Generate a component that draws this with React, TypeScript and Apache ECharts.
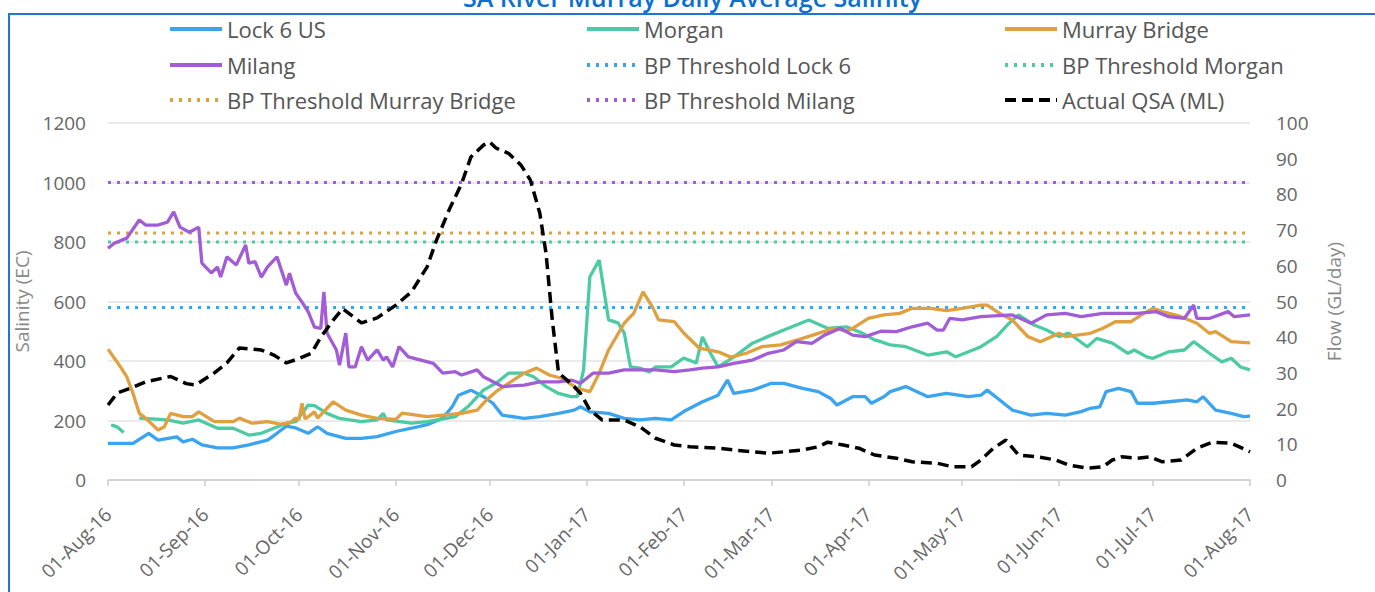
import React, { useEffect, useRef } from "react";
import * as echarts from "echarts";

const TITLE = "SA River Murray Daily Average Salinity";
const LEFT_AXIS_NAME = "Salinity (EC)";
const RIGHT_AXIS_NAME = "Flow (GL/day)";
const START = "2016-08-01";
const END = "2017-08-01";
const MONTH_TICKS = [
  "2016-08-01", "2016-09-01", "2016-10-01", "2016-11-01", "2016-12-01", "2017-01-01",
  "2017-02-01", "2017-03-01", "2017-04-01", "2017-05-01", "2017-06-01", "2017-07-01", "2017-08-01",
];
const MONTH_NAMES = ["Jan", "Feb", "Mar", "Apr", "May", "Jun", "Jul", "Aug", "Sep", "Oct", "Nov", "Dec"];

const SERIES_NAMES = [
  "Lock 6 US", "Morgan", "Murray Bridge",
  "Milang", "BP Threshold Lock 6", "BP Threshold Morgan",
  "BP Threshold Murray Bridge", "BP Threshold Milang", "Actual QSA (ML)",
];

const TH_LOCK6 = 580;
const TH_MORGAN = 800;
const TH_MURRAY_BRIDGE = 830;
const TH_MILANG = 1000;

const lock6: [string, number | null][] = [
  ["2016-08-01", 123], ["2016-08-09", 123], ["2016-08-14", 157], ["2016-08-17", 134], ["2016-08-23", 145],
  ["2016-08-25", 128], ["2016-08-28", 137], ["2016-08-31", 118], ["2016-09-05", 108], ["2016-09-10", 108],
  ["2016-09-15", 118], ["2016-09-21", 134], ["2016-09-24", 157], ["2016-09-27", 181], ["2016-09-30", 175],
  ["2016-10-04", 157], ["2016-10-07", 179], ["2016-10-10", 157], ["2016-10-16", 140], ["2016-10-21", 140],
  ["2016-10-26", 146], ["2016-11-01", 163], ["2016-11-06", 174], ["2016-11-11", 186], ["2016-11-16", 208],
  ["2016-11-19", 246], ["2016-11-21", 285], ["2016-11-25", 302], ["2016-11-29", 280], ["2016-12-02", 258],
  ["2016-12-05", 218], ["2016-12-12", 207], ["2016-12-17", 213], ["2016-12-23", 224], ["2016-12-28", 235],
  ["2016-12-30", 246], ["2017-01-02", 229], ["2017-01-08", 224], ["2017-01-13", 207], ["2017-01-18", 202],
  ["2017-01-23", 207], ["2017-01-28", 202], ["2017-02-01", 230], ["2017-02-07", 263], ["2017-02-12", 285],
  ["2017-02-15", 336], ["2017-02-17", 291], ["2017-02-23", 302], ["2017-03-01", 325], ["2017-03-05", 325],
  ["2017-03-11", 308], ["2017-03-16", 297], ["2017-03-20", 274], ["2017-03-22", 252], ["2017-03-27", 280],
  ["2017-03-31", 280], ["2017-04-02", 258], ["2017-04-06", 280], ["2017-04-08", 297], ["2017-04-13", 314],
  ["2017-04-20", 280], ["2017-04-26", 291], ["2017-05-03", 280], ["2017-05-07", 285], ["2017-05-09", 302],
  ["2017-05-13", 269], ["2017-05-17", 235], ["2017-05-23", 218], ["2017-05-28", 224], ["2017-06-03", 218],
  ["2017-06-08", 230], ["2017-06-11", 241], ["2017-06-14", 246], ["2017-06-16", 297], ["2017-06-20", 308],
  ["2017-06-24", 297], ["2017-06-26", 258], ["2017-07-01", 258], ["2017-07-06", 263], ["2017-07-12", 269],
  ["2017-07-15", 263], ["2017-07-17", 280], ["2017-07-21", 235], ["2017-07-26", 224], ["2017-07-30", 213],
  ["2017-08-01", 215],
];

const morgan: [string, number | null][] = [
  ["2016-08-02", 185], ["2016-08-03", 182], ["2016-08-04", 178], ["2016-08-06", 160], ["2016-08-08", null],
  ["2016-08-11", 208], ["2016-08-20", 202], ["2016-08-25", 191], ["2016-08-30", 202], ["2016-09-05", 174],
  ["2016-09-10", 174], ["2016-09-15", 151], ["2016-09-19", 157], ["2016-09-23", 174], ["2016-09-27", 191],
  ["2016-09-30", 196], ["2016-10-04", 252], ["2016-10-06", 250], ["2016-10-10", 224], ["2016-10-14", 207],
  ["2016-10-21", 196], ["2016-10-26", 202], ["2016-10-28", 224], ["2016-10-29", 202], ["2016-11-06", 191],
  ["2016-11-11", 196], ["2016-11-17", 207], ["2016-11-20", 213], ["2016-11-24", 246], ["2016-11-29", 302],
  ["2016-12-01", 314], ["2016-12-03", 325], ["2016-12-07", 359], ["2016-12-12", 359], ["2016-12-15", 347],
  ["2016-12-19", 314], ["2016-12-23", 291], ["2016-12-27", 280], ["2016-12-29", 280], ["2016-12-31", 370],
  ["2017-01-02", 683], ["2017-01-05", 739], ["2017-01-08", 538], ["2017-01-11", 528], ["2017-01-13", 494],
  ["2017-01-15", 380], ["2017-01-18", 376], ["2017-01-21", 363], ["2017-01-23", 380], ["2017-01-28", 380],
  ["2017-02-01", 410], ["2017-02-05", 393], ["2017-02-07", 481], ["2017-02-09", 437], ["2017-02-12", 380],
  ["2017-02-17", 413], ["2017-02-23", 460], ["2017-03-01", 487], ["2017-03-05", 504], ["2017-03-13", 538],
  ["2017-03-19", 510], ["2017-03-25", 515], ["2017-03-30", 494], ["2017-04-03", 471], ["2017-04-05", 465],
  ["2017-04-08", 454], ["2017-04-13", 448], ["2017-04-20", 420], ["2017-04-26", 431], ["2017-04-29", 414],
  ["2017-05-07", 448], ["2017-05-12", 482], ["2017-05-16", 527], ["2017-05-19", 555], ["2017-05-24", 521],
  ["2017-05-28", 504], ["2017-06-01", 482], ["2017-06-04", 494], ["2017-06-10", 448], ["2017-06-13", 476],
  ["2017-06-18", 460], ["2017-06-23", 426], ["2017-06-25", 437], ["2017-06-29", 414], ["2017-07-01", 409],
  ["2017-07-06", 431], ["2017-07-11", 437], ["2017-07-14", 465], ["2017-07-19", 426], ["2017-07-23", 397],
  ["2017-07-26", 409], ["2017-07-29", 380], ["2017-08-01", 370],
];

const murrayBridge: [string, number | null][] = [
  ["2016-08-01", 440], ["2016-08-05", 380], ["2016-08-07", 347], ["2016-08-09", 291], ["2016-08-11", 224],
  ["2016-08-13", 208], ["2016-08-17", 168], ["2016-08-19", 179], ["2016-08-21", 224], ["2016-08-25", 213],
  ["2016-08-28", 213], ["2016-08-30", 229], ["2016-09-04", 196], ["2016-09-10", 196], ["2016-09-12", 208],
  ["2016-09-16", 191], ["2016-09-21", 196], ["2016-09-25", 188], ["2016-09-28", 191], ["2016-09-30", 208],
  ["2016-10-01", 202], ["2016-10-02", 258], ["2016-10-03", 205], ["2016-10-06", 229], ["2016-10-07", 208],
  ["2016-10-12", 263], ["2016-10-16", 235], ["2016-10-21", 218], ["2016-10-26", 207], ["2016-11-01", 204],
  ["2016-11-03", 225], ["2016-11-11", 213], ["2016-11-16", 218], ["2016-11-22", 224], ["2016-11-27", 235],
  ["2016-11-30", 269], ["2016-12-03", 297], ["2016-12-07", 325], ["2016-12-12", 359], ["2016-12-16", 376],
  ["2016-12-20", 353], ["2016-12-24", 342], ["2016-12-29", 308], ["2017-01-02", 297], ["2017-01-05", 359],
  ["2017-01-08", 437], ["2017-01-13", 527], ["2017-01-16", 560], ["2017-01-19", 632], ["2017-01-22", 582],
  ["2017-01-24", 538], ["2017-01-29", 532], ["2017-02-01", 494], ["2017-02-06", 443], ["2017-02-12", 431],
  ["2017-02-16", 413], ["2017-02-21", 426], ["2017-02-26", 448], ["2017-03-04", 454], ["2017-03-11", 476],
  ["2017-03-16", 493], ["2017-03-21", 510], ["2017-03-25", 500], ["2017-03-27", 510], ["2017-04-01", 543],
  ["2017-04-06", 555], ["2017-04-11", 560], ["2017-04-15", 577], ["2017-04-21", 577], ["2017-04-26", 569],
  ["2017-05-01", 577], ["2017-05-07", 588], ["2017-05-09", 588], ["2017-05-13", 560], ["2017-05-17", 538],
  ["2017-05-22", 482], ["2017-05-26", 465], ["2017-06-01", 493], ["2017-06-03", 482], ["2017-06-11", 493],
  ["2017-06-15", 510], ["2017-06-19", 532], ["2017-06-24", 532], ["2017-06-28", 560], ["2017-07-01", 577],
  ["2017-07-04", 566], ["2017-07-10", 549], ["2017-07-15", 527], ["2017-07-19", 493], ["2017-07-21", 499],
  ["2017-07-26", 465], ["2017-08-01", 461],
];

const milang: [string, number | null][] = [
  ["2016-08-01", 779], ["2016-08-03", 796], ["2016-08-07", 813], ["2016-08-11", 874], ["2016-08-13", 857],
  ["2016-08-17", 857], ["2016-08-20", 867], ["2016-08-22", 901], ["2016-08-24", 850], ["2016-08-27", 833],
  ["2016-08-30", 850], ["2016-08-31", 729], ["2016-09-03", 696], ["2016-09-05", 716], ["2016-09-06", 682],
  ["2016-09-08", 750], ["2016-09-11", 723], ["2016-09-14", 790], ["2016-09-15", 729], ["2016-09-17", 734],
  ["2016-09-19", 682], ["2016-09-21", 716], ["2016-09-24", 750], ["2016-09-27", 655], ["2016-09-28", 695],
  ["2016-09-30", 628], ["2016-10-02", 598], ["2016-10-04", 565], ["2016-10-06", 514], ["2016-10-08", 510],
  ["2016-10-09", 632], ["2016-10-10", 494], ["2016-10-13", 437], ["2016-10-14", 386], ["2016-10-16", 494],
  ["2016-10-17", 380], ["2016-10-19", 380], ["2016-10-21", 448], ["2016-10-23", 403], ["2016-10-26", 437],
  ["2016-10-28", 403], ["2016-10-29", 414], ["2016-10-31", 380], ["2016-11-02", 448], ["2016-11-05", 414],
  ["2016-11-09", 403], ["2016-11-13", 392], ["2016-11-16", 359], ["2016-11-20", 364], ["2016-11-22", 353],
  ["2016-11-27", 370], ["2016-11-29", 347], ["2016-12-03", 325], ["2016-12-05", 314], ["2016-12-12", 319],
  ["2016-12-17", 330], ["2016-12-23", 330], ["2016-12-27", 336], ["2016-12-30", 325], ["2017-01-03", 359],
  ["2017-01-08", 359], ["2017-01-13", 370], ["2017-01-18", 370], ["2017-01-23", 370], ["2017-01-29", 364],
  ["2017-02-03", 370], ["2017-02-07", 376], ["2017-02-12", 380], ["2017-02-17", 392], ["2017-02-23", 403],
  ["2017-02-28", 426], ["2017-03-05", 437], ["2017-03-09", 465], ["2017-03-14", 459], ["2017-03-18", 487],
  ["2017-03-23", 510], ["2017-03-27", 487], ["2017-03-31", 482], ["2017-04-05", 500], ["2017-04-10", 499],
  ["2017-04-15", 515], ["2017-04-20", 527], ["2017-04-23", 504], ["2017-04-25", 504], ["2017-04-27", 543],
  ["2017-05-01", 538], ["2017-05-07", 549], ["2017-05-17", 555], ["2017-05-23", 527], ["2017-05-28", 555],
  ["2017-06-03", 560], ["2017-06-08", 549], ["2017-06-15", 560], ["2017-06-26", 560], ["2017-07-02", 566],
  ["2017-07-06", 549], ["2017-07-11", 543], ["2017-07-14", 588], ["2017-07-15", 543], ["2017-07-19", 543],
  ["2017-07-25", 566], ["2017-07-27", 549], ["2017-08-01", 555],
];

const actualQsa: [string, number | null][] = [
  ["2016-08-01", 21], ["2016-08-04", 24.4], ["2016-08-09", 26], ["2016-08-13", 27.5], ["2016-08-21", 29],
  ["2016-08-26", 27], ["2016-08-29", 26.6], ["2016-09-04", 30], ["2016-09-08", 32.8], ["2016-09-12", 37],
  ["2016-09-19", 36.4], ["2016-09-23", 35], ["2016-09-27", 32.8], ["2016-10-01", 34], ["2016-10-05", 35.5],
  ["2016-10-08", 40], ["2016-10-12", 44.8], ["2016-10-15", 48], ["2016-10-21", 44], ["2016-10-26", 45.4],
  ["2016-11-01", 49], ["2016-11-06", 52.7], ["2016-11-11", 59.7], ["2016-11-14", 67.2], ["2016-11-18", 75.6],
  ["2016-11-22", 83], ["2016-11-25", 90.5], ["2016-11-29", 93.8], ["2016-12-01", 94.7], ["2016-12-03", 93],
  ["2016-12-07", 91.5], ["2016-12-11", 88.2], ["2016-12-14", 84], ["2016-12-17", 74.8], ["2016-12-19", 63.5],
  ["2016-12-21", 44.8], ["2016-12-23", 30], ["2016-12-27", 27], ["2016-12-30", 24.3], ["2017-01-02", 19.6],
  ["2017-01-06", 16.8], ["2017-01-13", 16.8], ["2017-01-18", 14.9], ["2017-01-23", 11.7], ["2017-01-29", 9.8],
  ["2017-02-03", 9.3], ["2017-02-12", 8.9], ["2017-02-17", 8.4], ["2017-02-28", 7.5], ["2017-03-05", 7.9],
  ["2017-03-11", 8.4], ["2017-03-16", 9.3], ["2017-03-19", 10.6], ["2017-03-24", 9.8], ["2017-03-29", 8.9],
  ["2017-04-03", 7], ["2017-04-10", 6.1], ["2017-04-15", 5.1], ["2017-04-23", 4.7], ["2017-04-28", 3.7],
  ["2017-05-04", 3.7], ["2017-05-07", 5.6], ["2017-05-11", 8.9], ["2017-05-15", 11.2], ["2017-05-19", 7],
  ["2017-05-25", 6.5], ["2017-05-31", 5.6], ["2017-06-04", 4.2], ["2017-06-10", 3.3], ["2017-06-15", 3.7],
  ["2017-06-18", 5.6], ["2017-06-21", 6.5], ["2017-06-26", 6.1], ["2017-06-30", 6.5], ["2017-07-04", 5.1],
  ["2017-07-10", 5.6], ["2017-07-15", 8.9], ["2017-07-20", 10.6], ["2017-07-26", 10.3], ["2017-08-01", 7.9],
];

const COLORS = {
  lock6: "#3aa4ef",
  morgan: "#4ccaa3",
  murray: "#e1a03f",
  milang: "#a25dd6",
  qsa: "#000000",
};

function toTs(s: string): number {
  const [y, m, d] = s.split("-").map(Number);
  return new Date(y, m - 1, d).getTime();
}

function fmtDate(v: number): string {
  const d = new Date(v);
  const dd = String(d.getDate()).padStart(2, "0");
  const yy = String(d.getFullYear() % 100).padStart(2, "0");
  return `${dd}-${MONTH_NAMES[d.getMonth()]}-${yy}`;
}

const conv = (arr: [string, number | null][]) => arr.map(([d, v]) => [toTs(d), v === null ? "-" : v]);
const flat = (v: number) => [[toTs(START), v], [toTs(END), v]];

export default function App() {
  const ref = useRef<HTMLDivElement>(null);

  useEffect(() => {
    if (!ref.current) return;
    const chart = echarts.init(ref.current, undefined, { renderer: "svg" });
    const font = "'Open Sans', sans-serif";
    const cols = [168, 585, 1003];
    const rows = [18, 54, 89];
    const monthTs = MONTH_TICKS.map(toTs);

    const solid = (name: string, data: any[], color: string) => ({
      name, type: "line", data, symbol: "none", yAxisIndex: 0,
      lineStyle: { color, width: 3.3 }, itemStyle: { color }, z: 3,
    });
    const dotted = (name: string, v: number, color: string) => ({
      name, type: "line", data: flat(v), symbol: "none", yAxisIndex: 0,
      lineStyle: { color, width: 3, type: [3, 6] }, itemStyle: { color }, z: 2,
    });

    const option: any = {
      animation: false,
      backgroundColor: "#ffffff",
      textStyle: { fontFamily: font },
      title: {
        text: TITLE,
        left: 458,
        top: -21,
        textStyle: { color: "#0b6fd0", fontSize: 25, fontWeight: 600, fontFamily: font },
      },
      graphic: [
        {
          type: "rect",
          shape: { x: 9, y: 14, width: 2000, height: 2000 },
          style: { fill: "none", stroke: "#1c78d0", lineWidth: 2 },
          silent: true,
        },
      ],
      legend: SERIES_NAMES.map((n, i) => ({
        data: [n],
        left: cols[i % 3],
        top: rows[Math.floor(i / 3)],
        itemWidth: 52,
        itemHeight: 14,
        padding: 0,
        itemStyle: { color: "rgba(0,0,0,0)", borderWidth: 0, opacity: 0 },
        lineStyle: { width: 4 },
        textStyle: { color: "#555", fontSize: 22, fontFamily: font },
      })),
      grid: { left: 108, right: 125, top: 123, bottom: 112 },
      xAxis: {
        type: "value",
        min: monthTs[0],
        max: monthTs[monthTs.length - 1],
        axisLine: { lineStyle: { color: "#cccccc", width: 1.5 } },
        axisTick: {
          show: true, length: 6, lineStyle: { color: "#cccccc", width: 1.5 },
          customValues: monthTs,
        },
        axisLabel: {
          customValues: monthTs,
          formatter: (v: number) => fmtDate(v),
          rotate: 45,
          margin: 31,
          color: "#666",
          fontSize: 19,
          fontFamily: font,
          showMinLabel: true,
          showMaxLabel: true,
        },
        splitLine: { show: false },
      },
      yAxis: [
        {
          type: "value", min: 0, max: 1200, interval: 200,
          name: LEFT_AXIS_NAME, nameLocation: "middle", nameGap: 54, nameRotate: 90,
          nameTextStyle: { color: "#888", fontSize: 19, fontFamily: font },
          axisLine: { show: false }, axisTick: { show: false },
          axisLabel: { color: "#666", fontSize: 19, margin: 22, fontFamily: font, formatter: (v: number) => String(v) },
          splitLine: { lineStyle: { color: "#e3e3e3", width: 1.5 } },
        },
        {
          type: "value", min: 0, max: 100, interval: 10, position: "right",
          name: RIGHT_AXIS_NAME, nameLocation: "middle", nameGap: 74, nameRotate: 90,
          nameTextStyle: { color: "#888", fontSize: 19, fontFamily: font },
          axisLine: { show: false }, axisTick: { show: false },
          axisLabel: { color: "#666", fontSize: 19, margin: 26, fontFamily: font, formatter: (v: number) => String(v) },
          splitLine: { show: false },
        },
      ],
      series: [
        solid(SERIES_NAMES[0], conv(lock6), COLORS.lock6),
        solid(SERIES_NAMES[1], conv(morgan), COLORS.morgan),
        solid(SERIES_NAMES[2], conv(murrayBridge), COLORS.murray),
        solid(SERIES_NAMES[3], conv(milang), COLORS.milang),
        dotted(SERIES_NAMES[4], TH_LOCK6, COLORS.lock6),
        dotted(SERIES_NAMES[5], TH_MORGAN, COLORS.morgan),
        dotted(SERIES_NAMES[6], TH_MURRAY_BRIDGE, COLORS.murray),
        dotted(SERIES_NAMES[7], TH_MILANG, COLORS.milang),
        {
          name: SERIES_NAMES[8], type: "line", data: conv(actualQsa), symbol: "none", yAxisIndex: 1,
          lineStyle: { color: COLORS.qsa, width: 3.5, type: [11, 6] }, itemStyle: { color: COLORS.qsa }, z: 4,
        },
      ],
    };
    chart.setOption(option);
    return () => chart.dispose();
  }, []);

  return (
    <div
      ref={ref}
      style={{ position: "absolute", left: 0, top: 0, width: 1375, height: 592 }}
    />
  );
}
